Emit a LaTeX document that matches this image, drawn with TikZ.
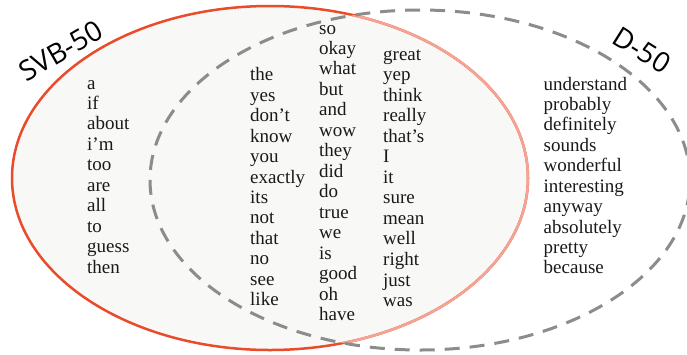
\documentclass[tikz,border=0pt]{standalone}
\usepackage{fontspec}
\setmainfont{Liberation Serif}
\newfontfamily\labelfont{Open Sans}
\usetikzlibrary{calc}

\definecolor{svbred}{HTML}{E94B2B}
\definecolor{svbpink}{HTML}{F4A394}
\definecolor{svbfill}{HTML}{F8F8F6}
\definecolor{dgray}{HTML}{8C8C8C}

\tikzset{
    word/.style={font=\fontsize{19}{20}\selectfont, anchor=base west, inner sep=0pt, text=black!90},
    setlabel/.style={font=\labelfont\fontsize{28}{30}\selectfont, inner sep=0pt, text=black}
}

\begin{document}
\begin{tikzpicture}[x=1pt, y=-1pt]
    \useasboundingbox (0,0) rectangle (687,354);
    \coordinate (S) at (270,178); \coordinate (D) at (420,180);

    % the two sets
    \draw[svbred, line width=2.5pt, fill=svbfill] (S) ellipse [x radius=258pt, y radius=172pt];
    \begin{scope}
        \clip (D) ellipse [x radius=270pt, y radius=170pt];
        \draw[svbpink, line width=2.5pt] (S) ellipse [x radius=258pt, y radius=172pt];
    \end{scope}
    \draw[dgray, line width=3pt, dash pattern=on 15pt off 10pt] (D) ellipse [x radius=270pt, y radius=170pt];

    \node[setlabel, rotate=30] (svb) at (61,51) {SVB-50};
    \node[setlabel, rotate=-32] (d50) at (642,50) {D-50};

    % word columns
    \foreach \w [count=\i] in {a, if, about, i'm, too, are, all, to, guess, then} {
        \node[word] (a-\i) at (87, 89+20.45*\i-20.45) {\w};
    }
    \foreach \w [count=\i] in {the, yes, don't, know, you, exactly, its, not, that, no, see, like} {
        \node[word] (b-\i) at (250, 80.7+20.47*\i-20.47) {\w};
    }
    \foreach \w [count=\i] in {so, okay, what, but, and, wow, they, did, do, true, we, is, good, oh, have} {
        \node[word] (c-\i) at (319, 34+20.48*\i-20.48) {\w};
    }
    \foreach \w [count=\i] in {great, yep, think, really, that's, I, it, sure, mean, well, right, just, was} {
        \node[word] (e-\i) at (383, 60+20.55*\i-20.55) {\w};
    }
    \foreach \w [count=\i] in {understand, probably, definitely, sounds, wonderful, interesting, anyway, absolutely, pretty, because} {
        \node[word] (f-\i) at (543.5, 90+20.44*\i-20.44) {\w};
    }
\end{tikzpicture}
\end{document}
